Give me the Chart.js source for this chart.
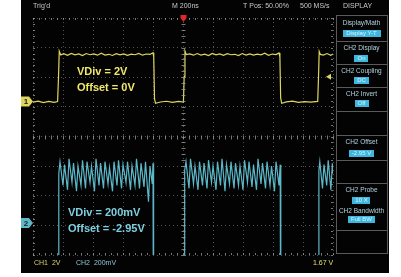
<!DOCTYPE html>
<html lang="en">
<head>
<meta charset="UTF-8" />
<title>Scope - CH1 / CH2 Display</title>
<script src="https://cdn.jsdelivr.net/npm/chart.js"></script>
<style>
  html, body { margin: 0; padding: 0; background: #fff; }
  #wrap { width: 401px; height: 277px; }
</style>
</head>
<body>
<div id="wrap"><canvas id="scope" width="401" height="277"></canvas></div>
<script>
  // time base 200 ns/div, 10 divisions, trigger at centre
  const timeTicks = [-1000, -800, -600, -400, -200, 0, 200, 400, 600, 800, 1000];

  // CH1 trace, [ns, V]
  const ch1Trace = [
    [-1000, -0.04], [-965, 0.03], [-930, -0.07], [-895, 0.01], [-860, -0.05], [-836, 0.0],
    [-830, 1.6], [-825, 3.4], [-815, 3.15],
    [-795, 3.23], [-770, 3.12], [-745, 3.25], [-720, 3.15], [-695, 3.21], [-670, 3.1],
    [-645, 3.24], [-620, 3.16], [-595, 3.22], [-570, 3.13], [-545, 3.26], [-520, 3.14],
    [-495, 3.19], [-470, 3.11], [-445, 3.23], [-420, 3.15], [-395, 3.22], [-370, 3.12],
    [-345, 3.2], [-320, 3.16], [-295, 3.25], [-270, 3.13], [-245, 3.21], [-220, 3.18], [-200, 3.3],
    [-195, 3.0], [-190, 0.2], [-183, -0.12],
    [-150, -0.03], [-110, 0.02], [-70, -0.06], [-30, 0.01], [3, -0.03],
    [8, 1.7], [13, 3.42], [22, 3.17],
    [45, 3.22], [70, 3.13], [95, 3.24], [120, 3.14], [145, 3.2], [170, 3.11], [195, 3.25],
    [220, 3.15], [245, 3.21], [270, 3.12], [295, 3.23], [320, 3.16], [345, 3.19], [370, 3.1],
    [395, 3.24], [420, 3.14], [445, 3.22], [470, 3.13], [495, 3.2], [520, 3.15], [545, 3.26],
    [570, 3.12], [595, 3.21], [620, 3.17], [640, 3.28],
    [646, 3.0], [651, 0.25], [658, -0.12],
    [690, -0.02], [730, 0.03], [770, -0.06], [810, 0.0], [850, -0.04], [898, 0.01],
    [903, 1.5], [908, 3.38], [916, 3.18],
    [935, 3.14], [960, 3.24], [985, 3.12], [1000, 3.2]
  ];

  // CH2 trace, [ns, V] (low level sits below the screen)
  const ch2Trace = [
    [-1000, 1.0], [-831, 1.0], [-828, 2.7],
    [-820, 2.78], [-800, 2.62], [-790, 2.76], [-770, 2.59], [-760, 2.80], [-740, 2.64],
    [-730, 2.77], [-710, 2.58], [-700, 2.75], [-680, 2.62], [-670, 2.79], [-650, 2.60],
    [-640, 2.78], [-620, 2.64], [-610, 2.75], [-590, 2.58], [-580, 2.80], [-560, 2.62],
    [-550, 2.77], [-530, 2.60], [-520, 2.78], [-500, 2.63], [-490, 2.74], [-470, 2.58],
    [-460, 2.78], [-440, 2.62], [-430, 2.79], [-410, 2.60], [-400, 2.76], [-380, 2.64],
    [-370, 2.78], [-350, 2.59], [-340, 2.75], [-320, 2.62], [-310, 2.80], [-290, 2.60],
    [-280, 2.77], [-260, 2.61], [-250, 2.78], [-230, 2.51], [-220, 2.75], [-205, 2.63],
    [-200, 2.77], [-196, 1.0],
    [8, 1.0], [11, 2.72],
    [20, 2.78], [40, 2.60], [50, 2.80], [70, 2.63], [80, 2.75], [100, 2.59],
    [110, 2.78], [130, 2.62], [140, 2.77], [160, 2.60], [170, 2.79], [190, 2.64],
    [200, 2.75], [220, 2.59], [230, 2.78], [250, 2.62], [260, 2.80], [280, 2.58],
    [290, 2.76], [310, 2.63], [320, 2.78], [340, 2.60], [350, 2.77], [370, 2.62],
    [380, 2.75], [400, 2.59], [410, 2.79], [430, 2.64], [440, 2.78], [460, 2.61],
    [470, 2.76], [490, 2.59], [500, 2.80], [520, 2.63], [530, 2.77], [550, 2.60],
    [560, 2.78], [580, 2.62], [590, 2.75], [610, 2.58], [620, 2.78], [640, 2.62],
    [648, 2.76], [652, 1.0],
    [903, 1.0], [906, 2.72],
    [912, 2.78], [930, 2.60], [940, 2.76], [958, 2.62], [968, 2.79], [986, 2.59], [996, 2.77], [1000, 2.7]
  ];

  const ch1VDiv = 2;        // V/div
  const ch1Zero = 1.18;     // ground marker, div above centre
  const ch2VDiv = 0.2;      // V/div
  const ch2Offset = -2.95;  // V
  const ch2Marker = -2.92;  // div
  const trigLevel = 1.67;   // V

  const topLabels = ["Trig'd", 'M 200ns', 'T Pos: 50.00%', '500 MS/s', 'DISPLAY'];
  const menuLabels = ['Display/Math', 'CH2 Display', 'CH2 Coupling', 'CH2 Invert', 'CH2 Offset', 'CH2 Probe', 'CH2 Bandwidth'];
  const menuValues = ['Display Y-T', 'On', 'DC', 'Off', '-2.95 V', '10 X', 'Full BW'];

  const FONT = "'Liberation Sans', Arial, sans-serif";
  const YEL = '#ded65e';
  const CYA = '#5cb8c8';

  function line(c, x1, y1, x2, y2) {
    c.beginPath(); c.moveTo(x1, y1); c.lineTo(x2, y2); c.stroke();
  }

  function tag(c, x, y, col, txt) {
    c.fillStyle = col;
    c.beginPath();
    c.moveTo(x, y - 5); c.lineTo(x + 8, y - 5); c.lineTo(x + 12, y);
    c.lineTo(x + 8, y + 5); c.lineTo(x, y + 5); c.closePath(); c.fill();
    c.fillStyle = '#202020';
    c.font = 'bold 8px ' + FONT;
    c.textAlign = 'center'; c.textBaseline = 'middle';
    c.fillText(txt, x + 5, y + 0.5);
  }

  const scopeDecor = {
    id: 'scopeDecor',
    beforeDraw(chart) {
      const c = chart.ctx;
      c.save();
      c.fillStyle = '#ffffff';
      c.fillRect(0, 0, chart.width, chart.height);
      c.fillStyle = '#030303';
      c.fillRect(21, 0, 368, 273);
      c.restore();
    },
    afterDraw(chart) {
      const c = chart.ctx;
      const a = chart.chartArea;
      const xs = chart.scales.x, ys = chart.scales.y, y1 = chart.scales.yc1;
      c.save();

      // minor ticks on frame and centre lines
      c.strokeStyle = 'rgba(160,160,160,0.75)';
      c.lineWidth = 1;
      const cx = Math.round(xs.getPixelForValue(0)) + 0.5;
      const cy = Math.round(ys.getPixelForValue(0)) + 0.5;
      for (let i = 0; i <= 50; i++) {
        const px = Math.round(xs.getPixelForValue(-1000 + i * 40)) + 0.5;
        line(c, px, a.top, px, a.top + 2);
        line(c, px, a.bottom - 2, px, a.bottom);
        line(c, px, cy - 2, px, cy + 2);
      }
      for (let i = 0; i <= 40; i++) {
        const py = Math.round(ys.getPixelForValue(-4 + i * 0.2)) + 0.5;
        line(c, a.left, py, a.left + 2, py);
        line(c, a.right - 2, py, a.right, py);
        line(c, cx - 2, py, cx + 2, py);
      }

      // top status bar
      c.font = '7px ' + FONT;
      c.fillStyle = '#c8c8c8';
      c.textBaseline = 'middle';
      c.textAlign = 'left';
      c.fillText(topLabels[0], 33, 6);
      c.fillText(topLabels[1], 172, 6);
      c.fillText(topLabels[2], 243, 6);
      c.fillText(topLabels[3], 300, 6);
      c.fillText(topLabels[4], 343, 6);

      // trigger position marker
      c.fillStyle = '#e02828';
      c.beginPath();
      c.moveTo(cx - 3, 15); c.lineTo(cx + 3, 15); c.lineTo(cx + 3, 18);
      c.lineTo(cx, 22); c.lineTo(cx - 3, 18); c.closePath(); c.fill();

      // channel markers
      tag(c, 21, y1.getPixelForValue(0), YEL, '1');
      tag(c, 21, ys.getPixelForValue(ch2Marker), CYA, '2');

      // trigger level arrow
      const ty = y1.getPixelForValue(trigLevel);
      c.fillStyle = YEL;
      c.beginPath();
      c.moveTo(a.right - 7, ty); c.lineTo(a.right - 2, ty - 3); c.lineTo(a.right - 2, ty + 3);
      c.closePath(); c.fill();

      // annotations
      c.textAlign = 'left';
      c.textBaseline = 'middle';
      c.font = 'bold 11px ' + FONT;
      c.fillStyle = '#f0e86a';
      c.fillText('VDiv = ' + ch1VDiv + 'V', 77, 72);
      c.fillText('Offset = 0V', 77, 88);
      c.fillStyle = '#7ed0e0';
      c.fillText('VDiv = ' + ch2VDiv * 1000 + 'mV', 68, 213);
      c.fillText('Offset = ' + ch2Offset.toFixed(2) + 'V', 68, 229);

      // bottom status
      c.font = '7px ' + FONT;
      c.fillStyle = '#d8d070';
      c.fillText('CH1  ' + ch1VDiv + 'V', 34, 263);
      c.fillStyle = '#8cc8d4';
      c.fillText('CH2  ' + ch2VDiv * 1000 + 'mV', 76, 263);
      c.fillStyle = '#e8e070';
      c.fillText(trigLevel.toFixed(2) + ' V', 313, 263);

      // side menu
      const mx = 336, mw = 51, mc = mx + mw / 2;
      c.strokeStyle = '#5a5a5a';
      c.strokeRect(mx + 0.5, 15.5, mw, 238);
      [41, 64, 87, 111, 135, 160, 183, 230].forEach(y => line(c, mx, y + 0.5, mx + mw, y + 0.5));
      const labelY = [23, 48, 71, 94, 142, 190, 211];
      const boxY = [30, 55, 77, 100, 150, 197, 216];
      c.textAlign = 'center';
      menuLabels.forEach((lab, i) => {
        c.font = '6.5px ' + FONT;
        c.fillStyle = '#b4d4e0';
        c.fillText(lab, mc, labelY[i]);
        c.font = '6px ' + FONT;
        const w = i === 0 ? 38 : c.measureText(menuValues[i]).width + 6;
        c.fillStyle = '#3fb6de';
        c.fillRect(Math.round(mc - w / 2), boxY[i], Math.round(w), 7);
        c.fillStyle = '#d8f4ff';
        c.fillText(menuValues[i], mc, boxY[i] + 3.8);
      });
      c.restore();
    }
  };

  const ctx = document.getElementById('scope').getContext('2d');
  new Chart(ctx, {
    type: 'line',
    data: {
      datasets: [
        {
          label: 'CH1',
          data: ch1Trace.map(p => ({ x: p[0], y: p[1] })),
          yAxisID: 'yc1',
          borderColor: YEL,
          borderWidth: 1.2,
          pointRadius: 0,
          tension: 0
        },
        {
          label: 'CH2',
          data: ch2Trace.map(p => ({ x: p[0], y: p[1] })),
          yAxisID: 'yc2',
          borderColor: CYA,
          borderWidth: 1.2,
          pointRadius: 0,
          tension: 0
        }
      ]
    },
    options: {
      responsive: false,
      animation: false,
      devicePixelRatio: 1,
      layout: { padding: { left: 33, right: 68, top: 18, bottom: 22 } },
      plugins: { legend: { display: false }, tooltip: { enabled: false } },
      scales: {
        x: {
          type: 'linear', min: -1000, max: 1000,
          afterBuildTicks: s => { s.ticks = timeTicks.map(v => ({ value: v })); },
          ticks: { display: false },
          grid: { color: 'rgba(150,150,150,0.55)', drawTicks: false },
          border: { display: false, dash: [1, 3] }
        },
        y: {
          min: -4, max: 4,
          ticks: { display: false, stepSize: 1 },
          grid: { color: 'rgba(150,150,150,0.55)', drawTicks: false },
          border: { display: false, dash: [1, 3] }
        },
        yc1: {
          display: false,
          min: (-4 - ch1Zero) * ch1VDiv,
          max: (4 - ch1Zero) * ch1VDiv
        },
        yc2: {
          display: false,
          min: -ch2Offset - 4 * ch2VDiv,
          max: -ch2Offset + 4 * ch2VDiv
        }
      }
    },
    plugins: [scopeDecor]
  });
</script>
</body>
</html>
